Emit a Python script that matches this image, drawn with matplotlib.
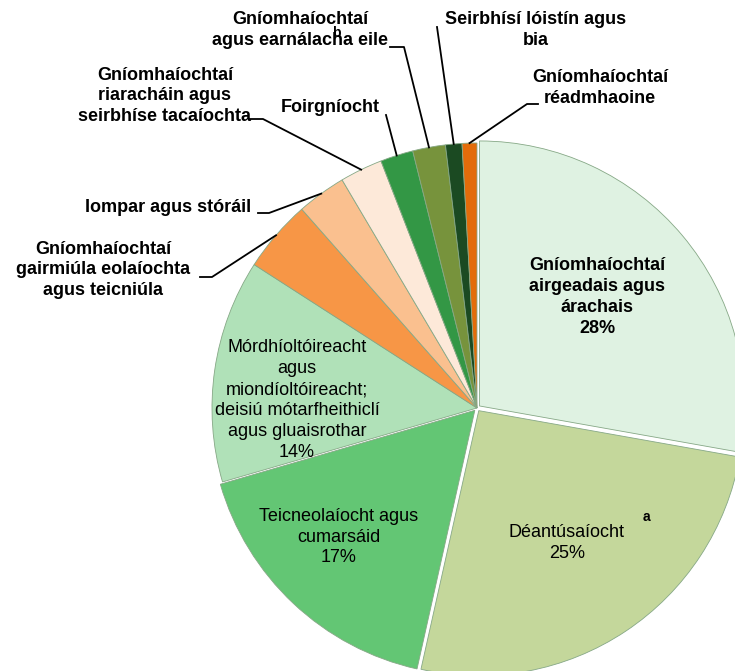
import numpy as np
import matplotlib.pyplot as plt

plt.rcParams['font.family'] = ['Liberation Sans', 'DejaVu Sans']

# sector shares (%), clockwise from 12 o'clock
sectors = [
    'Gníomhaíochtaí airgeadais agus árachais',
    'Déantúsaíocht',
    'Teicneolaíocht agus cumarsáid',
    'Mórdhíoltóireacht agus miondíoltóireacht',
    'Gníomhaíochtaí gairmiúla eolaíochta agus teicniúla',
    'Iompar agus stóráil',
    'Gníomhaíochtaí riaracháin agus seirbhíse tacaíochta',
    'Foirgníocht',
    'Gníomhaíochtaí agus earnálacha eile',
    'Seirbhísí lóistín agus bia',
    'Gníomhaíochtaí réadmhaoine',
]
shares = [27.8, 25.7, 17.0, 13.6, 4.4, 3.0, 2.6, 2.0, 2.0, 1.0, 0.9]
colors = ['#DFF2E2', '#C4D79B', '#63C674', '#B0E1B8', '#F79646', '#FAC08F',
          '#FDE9D9', '#339745', '#77933C', '#1B4A22', '#E36C0A']
explode = [0.012, 0.012, 0.012, 0, 0, 0, 0, 0, 0, 0, 0]

inner_labels = {
    0: ('Gníomhaíochtaí\nairgeadais agus\nárachais\n28%', 'bold', (597, 297)),
    1: ('Déantúsaíocht\n25%', 'normal', (567, 543)),
    2: ('Teicneolaíocht agus\ncumarsáid\n17%', 'normal', (339, 537)),
    3: ('Mórdhíoltóireacht\nagus\nmiondíoltóireacht;\ndeisiú mótarfheithiclí\nagus gluaisrothar\n14%',
        'normal', (297, 400)),
}
# outer labels: text, text position, elbow start, elbow end
outer_labels = {
    4: ('Gníomhaíochtaí\ngairmiúla eolaíochta\nagus teicniúla', (103, 270), (200, 277), (212, 277)),
    5: ('Iompar agus stóráil', (168, 208), (258, 213), (269, 213)),
    6: ('Gníomhaíochtaí\nriaracháin agus\nseirbhíse tacaíochta', (165, 96), (250, 119), (263, 119)),
    7: ('Foirgníocht', (330, 108), (386, 115), (386, 115)),
    8: ('Gníomhaíochtaí\nagus earnálacha eile', (300, 30), (390, 47), (404, 47)),
    9: ('Seirbhísí lóistín agus\nbia', (536, 30), (437, 27), (437, 27)),
    10: ('Gníomhaíochtaí\nréadmhaoine', (600, 88), (538, 104), (527, 104)),
}

H = 671
cx, cy, R = 477, H - 408, 265

fig = plt.figure(figsize=(7.35, 6.71), dpi=100)
ax = fig.add_axes([0, 0, 1, 1])

# pie's explode offset is in data units, so scale by the radius
wedges, _ = ax.pie(shares, colors=colors, explode=[e * R for e in explode],
                   startangle=90, counterclock=False, center=(cx, cy), radius=R,
                   wedgeprops=dict(edgecolor='#86A886', linewidth=0.6))
ax.set_xlim(0, 735)
ax.set_ylim(0, H)
ax.set_aspect('auto')
ax.axis('off')

for i, (txt, weight, (x, y)) in inner_labels.items():
    ax.text(x, H - y, txt, ha='center', va='center', fontsize=13,
            fontweight=weight, linespacing=1.3)

ax.text(646, H - 517, 'a', ha='center', va='center', fontsize=10, fontweight='bold')
ax.text(336, H - 33, 'b', ha='center', va='center', fontsize=10, fontweight='bold')

for i, (txt, (x, y), p0, p1) in outer_labels.items():
    w = wedges[i]
    ang = np.deg2rad((w.theta1 + w.theta2) / 2)
    ex = w.center[0] + w.r * np.cos(ang)
    ey = w.center[1] + w.r * np.sin(ang)
    ax.plot([p0[0], p1[0], ex], [H - p0[1], H - p1[1], ey], color='black', lw=1.3)
    ax.text(x, H - y, txt, ha='center', va='center', fontsize=13, fontweight='bold',
            linespacing=1.3)

fig.savefig('out.png', dpi=100)
